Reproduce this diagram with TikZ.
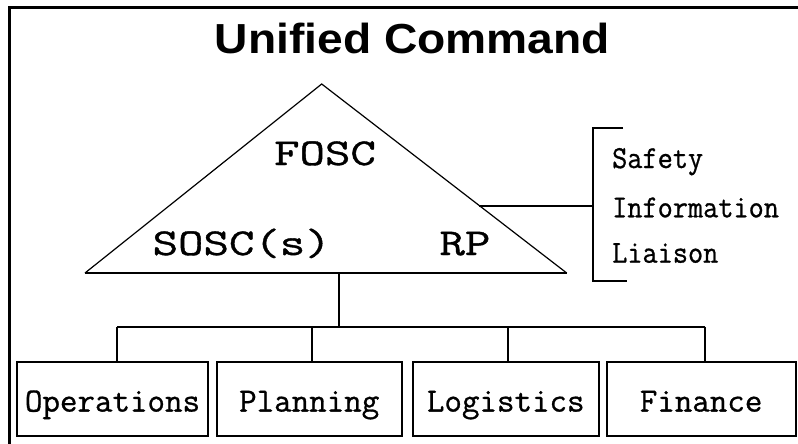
\documentclass[tikz,border=0pt]{standalone}
\usepackage{fontspec}
\usepackage{graphicx}
\newfontfamily\headfont{Liberation Sans}
\newfontfamily\typefont{Latin Modern Mono}[FakeBold=0.9]
\usetikzlibrary{calc}
\begin{document}
\begin{tikzpicture}[x=1pt,y=-1pt,
  link/.style={line width=2pt},
  edge/.style={line width=1.2pt, line join=miter},
  frame/.style={line width=3pt},
  heading/.style={anchor=base, inner sep=0pt, font=\headfont\bfseries\fontsize{42}{48}\selectfont},
  role/.style={anchor=base, inner sep=0pt, font=\typefont\fontsize{38}{44}\selectfont},
  staff/.style={anchor=base west, inner sep=0pt, font=\typefont\fontsize{32}{38}\selectfont},
  section/.style={draw, line width=2pt, inner sep=0pt, minimum height=74.3pt,
    text height=25.5pt, text depth=0pt, font=\typefont\fontsize{34}{40}\selectfont}]

\useasboundingbox (0,0) rectangle (798,444);

% outer frame (top and left edges)
\coordinate (fr) at (798,8);
\coordinate (fc) at (9,8);
\coordinate (fb) at (9,444);
\draw[frame] (fr) -- (fc) -- (fb);

% heading
\node[heading] (title) at (412.5,53.3) {\scalebox{1.1}[1]{Unified Command}};

% command triangle
\coordinate (apex) at (321.7,84);
\coordinate (bl) at (85,273);
\coordinate (br) at (566.7,273);
\draw[edge] (bl) -- (apex) -- (br);
\draw[link] (bl) -- (br);

\node[role] (fosc) at (325,165) {\scalebox{1.3}[1]{FOSC}};
\node[role] (sosc) at (241.7,255) {\scalebox{1.3}[1]{SOSC(s)}};
\node[role] (rp) at (465,255) {\scalebox{1.3}[1]{RP}};

% command staff bracket
\coordinate (tap) at ($(apex)!0.644!(br)$);
\coordinate (bt) at (592.7,128);
\coordinate (bb) at (592.7,281);
\coordinate (btx) at (623,128);
\coordinate (bbx) at (627,281);
\draw[link] (btx) -- (bt) -- (bb) -- (bbx);
\draw[link] (tap) -- (tap -| bt);

\node[staff] (safety) at (612,168) {\scalebox{0.92}[1]{Safety}};
\node[staff] (info) at (612,217.3) {\scalebox{0.92}[1]{Information}};
\node[staff] (liaison) at (612,262.7) {\scalebox{0.92}[1]{Liaison}};

% general staff sections
\node[section, minimum width=191.6pt] (ops) at (112.5,398.85) {Operations};
\node[section, minimum width=185pt] (plan) at (309.2,398.85) {Planning};
\node[section, minimum width=186.5pt] (log) at (505.75,398.85) {Logistics};
\node[section, minimum width=188.8pt] (fin) at (701.1,398.85) {Finance};

% tree connectors
\coordinate (stem) at (339.3,273);
\coordinate (hub) at (339.3,326.5);
\coordinate (j1) at (117.3,326.5);
\coordinate (j2) at (312.3,326.5);
\coordinate (j3) at (508.3,326.5);
\coordinate (j4) at (705,326.5);
\draw[link] (stem) -- (hub);
\draw[link] (j1) -- (j4);
\draw[link] (j1) -- (j1 |- ops.north);
\draw[link] (j2) -- (j2 |- plan.north);
\draw[link] (j3) -- (j3 |- log.north);
\draw[link] (j4) -- (j4 |- fin.north);

\end{tikzpicture}
\end{document}
